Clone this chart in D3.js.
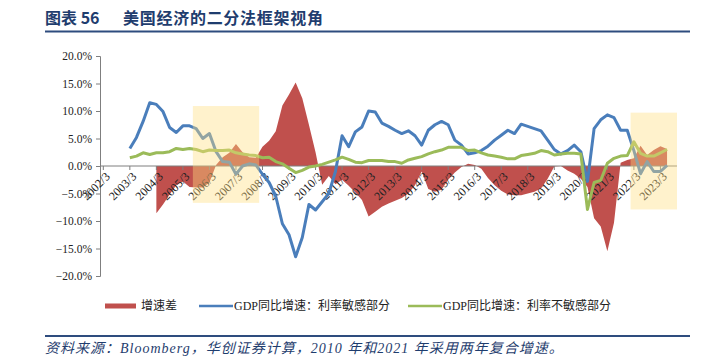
<!DOCTYPE html>
<html>
<head>
<meta charset="utf-8">
<script src="https://cdn.jsdelivr.net/npm/d3@7"></script>
<style>
  body { margin: 0; background: #fff; }
  svg { display: block; }
</style>
</head>
<body>
<script>
var width = 710,
    height = 362;

// quarterly categories, 2002/3 .. 2023/9
var years = d3.range(2002, 2024);
var months = [3, 6, 9, 12];
var quarters = [];
years.forEach(function (y) {
    months.forEach(function (m) {
        if (y === 2023 && m === 12) return;
        quarters.push(y + "/" + m);
    });
});

var yearTicks = ["2002/3", "2003/3", "2004/3", "2005/3", "2006/3", "2007/3", "2008/3",
    "2009/3", "2010/3", "2011/3", "2012/3", "2013/3", "2014/3", "2015/3", "2016/3",
    "2017/3", "2018/3", "2019/3", "2020/3", "2021/3", "2022/3", "2023/3"];

var yTicks = [-20, -15, -10, -5, 0, 5, 10, 15, 20];

// GDP同比增速：利率敏感部分 (from 2003/3)
var sensitiveStart = "2003/3";
var sensitive = [3.2, 5.2, 8.1, 11.5, 11.2, 9.9, 7.0, 6.1, 7.3, 7.3, 6.8, 5.0, 5.9, 2.6, 0.8, 0.7,
    -1.5, 0.0, 0.4, 0.2, -1.5, -3.0, -5.5, -10.5, -12.5, -16.5, -13.0, -7.0, -8.0, -6.5, -5.0, -1.0,
    5.5, 3.5, 6.2, 7.1, 10.0, 9.8, 7.8, 7.2, 6.5, 5.9, 6.4, 5.5, 3.8, 6.5, 7.5, 8.1,
    7.5, 4.7, 3.8, 2.2, 2.4, 2.8, 3.6, 4.7, 5.6, 6.5, 5.9, 7.6, 7.2, 6.8, 6.4, 4.7,
    3.0, 2.2, 2.8, 3.8, 2.6, -2.8, 6.8, 8.4, 9.3, 8.8, 6.5, 6.5, 2.8, -1.4, 0.8, -1.0, -1.0, 0.1];

// GDP同比增速：利率不敏感部分 (from 2003/3)
var insensitiveStart = "2003/3";
var insensitive = [1.5, 1.8, 2.4, 2.1, 2.4, 2.4, 2.6, 3.2, 3.0, 3.2, 3.0, 2.6, 2.9, 2.8, 2.8, 2.9,
    2.4, 2.2, 2.0, 1.9, 1.5, 1.6, 0.8, 0.4, -0.4, -1.2, -0.8, -0.2, 0.0, 0.3, 0.7, 1.1,
    1.6, 1.2, 0.7, 0.6, 1.0, 1.0, 1.0, 0.8, 0.8, 0.5, 1.1, 1.4, 1.7, 2.2, 2.6, 2.9,
    3.4, 3.4, 3.4, 2.8, 2.9, 2.4, 2.0, 1.8, 1.6, 1.3, 1.3, 1.9, 2.1, 2.3, 2.8, 2.6,
    2.0, 2.2, 2.3, 2.3, 2.2, -7.9, -3.0, -2.6, 0.5, 1.4, 1.8, 1.9, 4.4, 2.3, 1.8, 1.8, 2.4, 3.0];

// 增速差 (from 2004/3)
var gapStart = "2004/3";
var gap = [-8.6, -7.0, -5.2, -3.5, -2.8, -3.8, -3.9, -3.9, -3.0, 0.2, 1.6, 2.4, 4.0, 2.5, 1.6, 1.5,
    3.5, 4.6, 6.3, 11.0, 13.0, 15.2, 12.3, 7.5, 2.5, -3.4, -1.8, -3.3, -2.5, -3.6, -4.8, -6.2,
    -9.2, -8.3, -7.4, -6.8, -6.3, -5.8, -5.0, -3.5, -1.0, -4.2, -4.7, -4.3, -2.5, -1.2, -0.2, 0.4,
    0.2, -0.5, -2.2, -3.5, -4.5, -5.2, -5.3, -5.3, -5.0, -4.7, -4.1, -2.3, -0.1, 0.0, -0.8, -1.4,
    -2.3, -3.8, -9.5, -11.0, -15.5, -10.3, 0.6, 1.1, 1.4, 3.7, 2.0, 2.9, 3.6, 3.1];

// highlighted periods
var highlightFrom = ["2005/9", "2022/3"];
var highlightTo = ["2007/12", "2023/9"];
var highlightTop = [10.9, 9.7];
var highlightBottom = [-6.7, -7.9];

var seriesNames = ["增速差", "GDP同比增速：利率敏感部分", "GDP同比增速：利率不敏感部分"];
var colors = ["#C0504D", "#4A7EBB", "#9BBB59"];

function toPoints(start, values) {
    var s = quarters.indexOf(start);
    return values.map(function (v, i) { return {q: quarters[s + i], v: v}; });
}

var svg = d3.select("body").append("svg")
    .attr("width", width)
    .attr("height", height);

var x = d3.scaleBand().domain(quarters).range([100, 677]).padding(0);
var y = d3.scaleLinear().domain([-20, 20]).range([276, 56]);
var cx = function (q) { return x(q) + x.bandwidth() / 2; };

// title
svg.append("text")
    .attr("x", 45).attr("y", 24)
    .attr("font-family", "Noto Sans CJK SC")
    .attr("font-weight", "bold")
    .attr("font-size", 16)
    .attr("fill", "#1F3D6E")
    .text("图表 56");
svg.append("text")
    .attr("x", 123).attr("y", 24)
    .attr("font-family", "Noto Sans CJK SC")
    .attr("font-weight", "bold")
    .attr("font-size", 16)
    .attr("fill", "#1F3D6E")
    .attr("textLength", 200)
    .text("美国经济的二分法框架视角");
svg.append("line")
    .attr("x1", 45).attr("x2", 690)
    .attr("y1", 31.5).attr("y2", 31.5)
    .attr("stroke", "#2E4C7E").attr("stroke-width", 2);

// gap area
var gapPts = toPoints(gapStart, gap);
svg.append("path")
    .datum(gapPts)
    .attr("fill", colors[0])
    .attr("d", d3.area()
        .x(function (d) { return cx(d.q); })
        .y0(y(0))
        .y1(function (d) { return y(d.v); }));

// y axis
var yAxis = svg.append("g")
    .attr("transform", "translate(100,0)")
    .call(d3.axisLeft(y).tickValues(yTicks).tickSize(4).tickPadding(4)
        .tickFormat(function (d) { return d3.format(".1f")(d) + "%"; }));
yAxis.select(".domain").attr("stroke", "#7F7F7F");
yAxis.selectAll(".tick line").attr("stroke", "#7F7F7F");
yAxis.selectAll(".tick text").attr("font-size", 11.5).attr("fill", "#222")
    .attr("font-family", "Liberation Serif");

// x axis at zero
var xAxisG = svg.append("g").attr("transform", "translate(0," + y(0) + ")");
xAxisG.append("line")
    .attr("x1", 100).attr("x2", 677)
    .attr("stroke", "#7F7F7F");
xAxisG.selectAll("line.tick")
    .data(yearTicks)
    .enter().append("line")
    .attr("class", "tick")
    .attr("x1", cx).attr("x2", cx)
    .attr("y1", 0).attr("y2", 4)
    .attr("stroke", "#7F7F7F");
xAxisG.selectAll("text")
    .data(yearTicks)
    .enter().append("text")
    .attr("font-family", "Liberation Serif")
    .attr("font-size", 12)
    .attr("fill", "#222")
    .attr("text-anchor", "end")
    .attr("transform", function (d) { return "translate(" + (cx(d) + 1) + ",5) rotate(-45)"; })
    .attr("dy", "0.75em")
    .text(function (d) { return d; });

// lines
var line = d3.line()
    .x(function (d) { return cx(d.q); })
    .y(function (d) { return y(d.v); });

svg.append("path")
    .datum(toPoints(sensitiveStart, sensitive))
    .attr("fill", "none")
    .attr("stroke", colors[1])
    .attr("stroke-width", 3)
    .attr("stroke-linejoin", "round")
    .attr("d", line);

svg.append("path")
    .datum(toPoints(insensitiveStart, insensitive))
    .attr("fill", "none")
    .attr("stroke", colors[2])
    .attr("stroke-width", 3)
    .attr("stroke-linejoin", "round")
    .attr("d", line);

// highlight boxes on top
svg.selectAll("rect.hl")
    .data(highlightFrom)
    .enter().append("rect")
    .attr("class", "hl")
    .attr("x", function (d) { return x(d); })
    .attr("width", function (d, i) { return x(highlightTo[i]) + x.bandwidth() - x(d); })
    .attr("y", function (d, i) { return y(highlightTop[i]); })
    .attr("height", function (d, i) { return y(highlightBottom[i]) - y(highlightTop[i]); })
    .attr("fill", "#FFDE80")
    .attr("fill-opacity", 0.4);

// legend
var legend = svg.append("g").attr("transform", "translate(0,306)");
var legendX = [105, 199, 408];
legend.selectAll("g")
    .data(seriesNames)
    .enter().append("g")
    .each(function (d, i) {
        var g = d3.select(this);
        if (i === 0) {
            g.append("rect").attr("x", legendX[i]).attr("y", -2.5)
                .attr("width", 31).attr("height", 5).attr("fill", colors[i]);
        } else {
            g.append("line").attr("x1", legendX[i]).attr("x2", legendX[i] + 34)
                .attr("stroke", colors[i]).attr("stroke-width", 2.5);
        }
        g.append("text")
            .attr("x", legendX[i] + (i === 0 ? 36 : 35))
            .attr("dy", "0.35em")
            .attr("font-family", "Liberation Serif, Noto Sans CJK SC")
            .attr("font-size", 12)
            .attr("fill", "#222")
            .text(d);
    });

// source
svg.append("line")
    .attr("x1", 45).attr("x2", 690)
    .attr("y1", 336).attr("y2", 336)
    .attr("stroke", "#2E4C7E").attr("stroke-width", 2);
svg.append("text")
    .attr("x", 45).attr("y", 353)
    .attr("font-family", "Liberation Serif, Noto Sans CJK SC")
    .attr("font-style", "italic")
    .attr("font-size", 14)
    .attr("letter-spacing", 1)
    .attr("fill", "#1F3D6E")
    .text("资料来源：Bloomberg，华创证券计算，2010 年和2021 年采用两年复合增速。");
</script>
</body>
</html>
